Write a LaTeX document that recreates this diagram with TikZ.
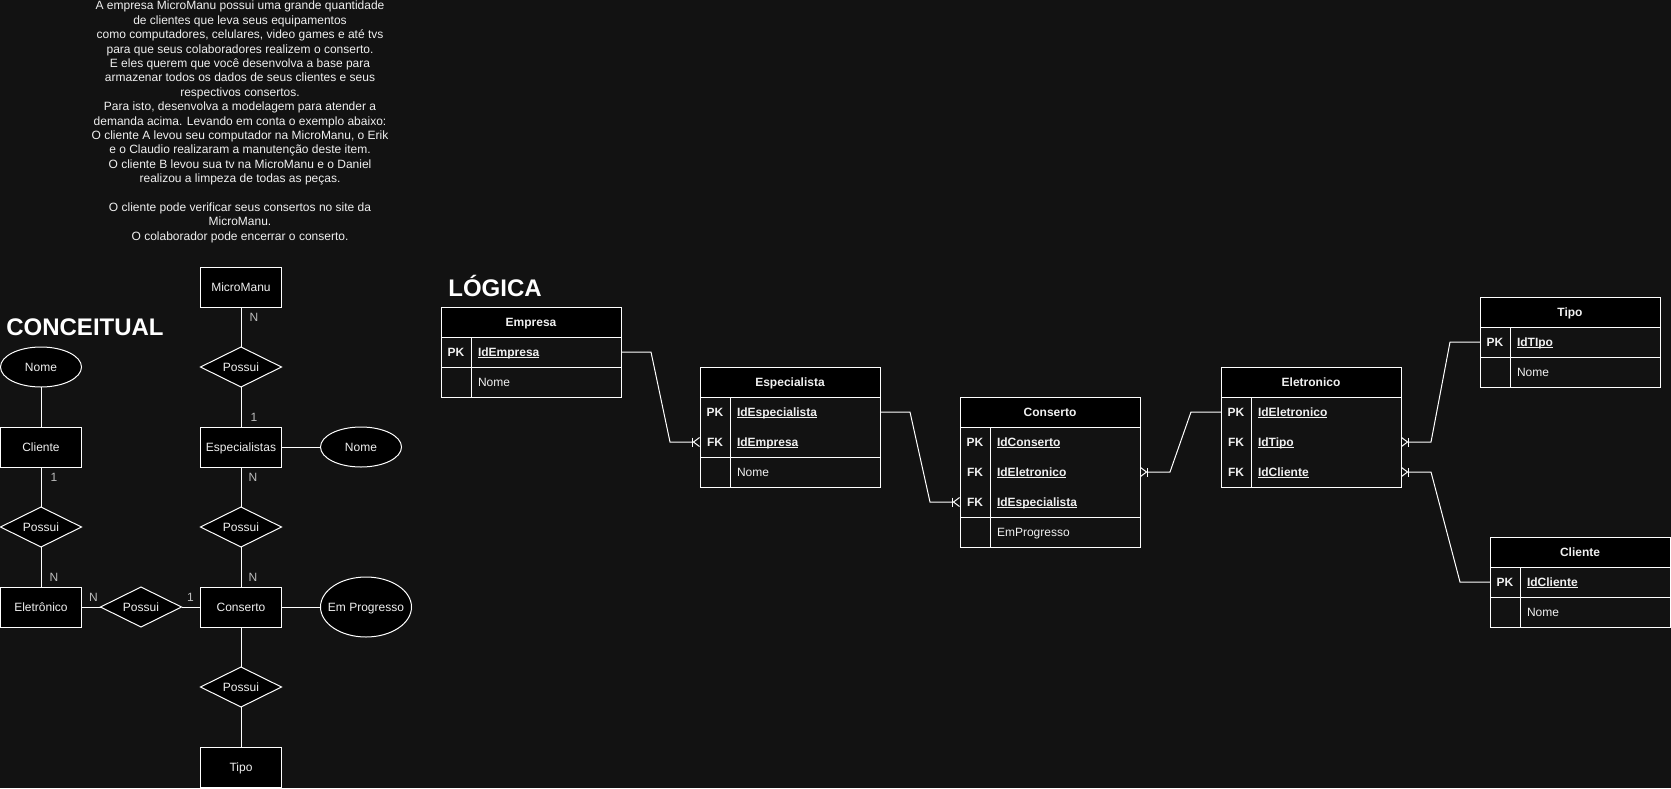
\documentclass[tikz,border=0pt]{standalone}
\usepackage{fontspec}
\setmainfont{Liberation Sans}
\usepackage{tikz}
\usetikzlibrary{positioning,shapes.geometric,arrows.meta}
\definecolor{bg}{HTML}{121212}
\definecolor{ink}{HTML}{F0F0F0}
\definecolor{cardink}{HTML}{BDBDBD}
\newcommand{\idkey}[1]{\setbox0\hbox{#1}\rlap{\rule[-1.6pt]{\wd0}{0.8pt}}\box0}
\tikzstyle{every node}=[text=ink, outer sep=0pt, font=\fontsize{12}{14.4}\selectfont]
\tikzset{
    entity/.style={
                draw=white,
                fill=black,
                line width=1pt,
                minimum width=81pt,
                minimum height=40pt,
                inner sep=0pt,
                text height=8.6pt,
                text depth=0pt
            },
    relation/.style={
                diamond,
                aspect=2,
                draw=white,
                fill=black,
                line width=1pt,
                minimum width=81pt,
                minimum height=40pt,
                inner sep=0pt,
                text height=8.6pt,
                text depth=0pt
            },
    attribute/.style={
                ellipse,
                draw=white,
                fill=black,
                line width=1pt,
                minimum width=81pt,
                minimum height=40pt,
                inner sep=0pt,
                text height=8.6pt,
                text depth=0pt
            },
    card/.style={
                text=cardink,
                inner sep=0pt
            },
    title/.style={
                text=white,
                font=\bfseries\fontsize{24}{28}\selectfont
            },
    note/.style={
                align=center,
                inner sep=0pt
            },
    tablehead/.style={
                draw=white,
                fill=black,
                line width=1pt,
                minimum width=180pt,
                minimum height=30pt,
                inner sep=0pt,
                text height=8.6pt,
                text depth=0pt,
                font=\bfseries\fontsize{12}{14.4}\selectfont
            },
    keycell/.style={
                minimum width=30pt,
                minimum height=30pt,
                inner sep=0pt,
                text height=8.6pt,
                text depth=0pt,
                font=\bfseries\fontsize{12}{14.4}\selectfont
            },
    fieldcell/.style={
                minimum height=30pt,
                inner xsep=7pt,
                inner ysep=0pt,
                text width=136pt,
                align=left,
                text height=8.6pt,
                text depth=0pt
            },
    keyfield/.style={
                fieldcell,
                font=\bfseries\fontsize{12}{14.4}\selectfont
            },
    link/.style={
                draw=white,
                line width=1pt
            },
    many/.style={
                -{Bar[width=9pt] Straight Barb[reversed,length=6pt,width=9pt]}
            },
}

\begin{document}
\begin{tikzpicture}[x=1pt, y=-1pt, node distance=40pt]
  \useasboundingbox (0,0) rectangle (1671,788);
  \fill[bg] (0,0) rectangle (1671,788);
  % Enunciado
  \node[note] (enunciado) at (240,122) {A empresa MicroManu possui uma grande quantidade\\
    de clientes que leva seus equipamentos\\
    como computadores, celulares, video games e até tvs\\
    para que seus colaboradores realizem o conserto.\\
    E eles querem que você desenvolva a base para\\
    armazenar todos os dados de seus clientes e seus\\
    respectivos consertos.\\
    Para isto, desenvolva a modelagem para atender a\\
    demanda acima. Levando em conta o exemplo abaixo:\\
    O cliente A levou seu computador na MicroManu, o Erik\\
    e o Claudio realizaram a manutenção deste item.\\
    O cliente B levou sua tv na MicroManu e o Daniel\\
    realizou a limpeza de todas as peças.\\[14.4pt]
    O cliente pode verificar seus consertos no site da\\
    MicroManu.\\
    O colaborador pode encerrar o conserto.};

  % Conceitual
  \node[title] (conceitual) at (85,327) {CONCEITUAL};
  \node[entity] (conserto) at (241,607) {Conserto};
  \node[relation, above=of conserto] (possui-esp) {Possui};
  \node[entity, above=of possui-esp] (especialistas) {Especialistas};
  \node[relation, above=of especialistas] (possui-mm) {Possui};
  \node[entity, above=of possui-mm] (micromanu) {MicroManu};
  \node[attribute, right=39pt of especialistas] (nome-esp) {Nome};
  \node[attribute, right=39pt of conserto, minimum width=91pt, minimum height=60pt, inner xsep=-8pt] (emprogresso) {Em Progresso};
  \node[relation, below=of conserto] (possui-tipo) {Possui};
  \node[entity, below=of possui-tipo] (tipo) {Tipo};
  \node[relation, left=19pt of conserto] (possui-ele) {Possui};
  \node[entity, left=19pt of possui-ele] (eletronico) {Eletrônico};
  \node[relation, above=of eletronico] (possui-cli) {Possui};
  \node[entity, above=of possui-cli] (cliente) {Cliente};
  \node[attribute, above=of cliente] (nome-cli) {Nome};

  \draw[link] (micromanu) -- (possui-mm);
  \draw[link] (possui-mm) -- (especialistas);
  \draw[link] (especialistas) -- (nome-esp);
  \draw[link] (especialistas) -- (possui-esp);
  \draw[link] (possui-esp) -- (conserto);
  \draw[link] (conserto) -- (emprogresso);
  \draw[link] (conserto) -- (possui-tipo);
  \draw[link] (possui-tipo) -- (tipo);
  \draw[link] (nome-cli) -- (cliente);
  \draw[link] (cliente) -- (possui-cli);
  \draw[link] (possui-cli) -- (eletronico);
  \draw[link] (eletronico) -- (possui-ele);
  \draw[link] (possui-ele) -- (conserto);

  % Cardinalidades
  \node[card] (card-mm) at ([shift={(13,10)}]micromanu.south) {N};
  \node[card] (card-esp1) at ([shift={(13,-10)}]especialistas.north) {1};
  \node[card] (card-esp2) at ([shift={(12,10)}]especialistas.south) {N};
  \node[card] (card-con1) at ([shift={(12,-10)}]conserto.north) {N};
  \node[card] (card-cli) at ([shift={(13,10)}]cliente.south) {1};
  \node[card] (card-ele1) at ([shift={(13,-10)}]eletronico.north) {N};
  \node[card] (card-ele2) at ([shift={(12,-10)}]eletronico.east) {N};
  \node[card] (card-con2) at ([shift={(-10,-10)}]conserto.west) {1};

  % Logica
  \node[title] (logica) at (495,286) {LÓGICA};

  % Empresa
  \node[tablehead] (empresa) at (531,322) {Empresa};
  \node[keycell, below right=0pt of empresa.south west] (empresa-k1) {PK};
  \node[keyfield, right=0pt of empresa-k1] (empresa-f1) {\idkey{IdEmpresa}};
  \node[keycell, below=0pt of empresa-k1] (empresa-k2) {};
  \node[fieldcell, right=0pt of empresa-k2] (empresa-f2) {Nome};
  \draw[link] (empresa-k1.north west) rectangle (empresa-f2.south east);
  \draw[link] (empresa-k1.north east) -- (empresa-k2.south east);
  \draw[link] (empresa-k2.north west) -- (empresa-f2.north east);

  % Especialista
  \node[tablehead] (espec) at (790,382) {Especialista};
  \node[keycell, below right=0pt of espec.south west] (espec-k1) {PK};
  \node[keyfield, right=0pt of espec-k1] (espec-f1) {\idkey{IdEspecialista}};
  \node[keycell, below=0pt of espec-k1] (espec-k2) {FK};
  \node[keyfield, right=0pt of espec-k2] (espec-f2) {\idkey{IdEmpresa}};
  \node[keycell, below=0pt of espec-k2] (espec-k3) {};
  \node[fieldcell, right=0pt of espec-k3] (espec-f3) {Nome};
  \draw[link] (espec-k1.north west) rectangle (espec-f3.south east);
  \draw[link] (espec-k1.north east) -- (espec-k3.south east);
  \draw[link] (espec-k3.north west) -- (espec-f3.north east);

  % Conserto
  \node[tablehead] (tconserto) at (1050,412) {Conserto};
  \node[keycell, below right=0pt of tconserto.south west] (tconserto-k1) {PK};
  \node[keyfield, right=0pt of tconserto-k1] (tconserto-f1) {\idkey{IdConserto}};
  \node[keycell, below=0pt of tconserto-k1] (tconserto-k2) {FK};
  \node[keyfield, right=0pt of tconserto-k2] (tconserto-f2) {\idkey{IdEletronico}};
  \node[keycell, below=0pt of tconserto-k2] (tconserto-k3) {FK};
  \node[keyfield, right=0pt of tconserto-k3] (tconserto-f3) {\idkey{IdEspecialista}};
  \node[keycell, below=0pt of tconserto-k3] (tconserto-k4) {};
  \node[fieldcell, right=0pt of tconserto-k4] (tconserto-f4) {EmProgresso};
  \draw[link] (tconserto-k1.north west) rectangle (tconserto-f4.south east);
  \draw[link] (tconserto-k1.north east) -- (tconserto-k4.south east);
  \draw[link] (tconserto-k4.north west) -- (tconserto-f4.north east);

  % Eletronico
  \node[tablehead] (eletro) at (1311,382) {Eletronico};
  \node[keycell, below right=0pt of eletro.south west] (eletro-k1) {PK};
  \node[keyfield, right=0pt of eletro-k1] (eletro-f1) {\idkey{IdEletronico}};
  \node[keycell, below=0pt of eletro-k1] (eletro-k2) {FK};
  \node[keyfield, right=0pt of eletro-k2] (eletro-f2) {\idkey{IdTipo}};
  \node[keycell, below=0pt of eletro-k2] (eletro-k3) {FK};
  \node[keyfield, right=0pt of eletro-k3] (eletro-f3) {\idkey{IdCliente}};
  \draw[link] (eletro-k1.north west) rectangle (eletro-f3.south east);
  \draw[link] (eletro-k1.north east) -- (eletro-k3.south east);

  % Tipo
  \node[tablehead] (ttipo) at (1570,312) {Tipo};
  \node[keycell, below right=0pt of ttipo.south west] (ttipo-k1) {PK};
  \node[keyfield, right=0pt of ttipo-k1] (ttipo-f1) {\idkey{IdTIpo}};
  \node[keycell, below=0pt of ttipo-k1] (ttipo-k2) {};
  \node[fieldcell, right=0pt of ttipo-k2] (ttipo-f2) {Nome};
  \draw[link] (ttipo-k1.north west) rectangle (ttipo-f2.south east);
  \draw[link] (ttipo-k1.north east) -- (ttipo-k2.south east);
  \draw[link] (ttipo-k2.north west) -- (ttipo-f2.north east);

  % Cliente
  \node[tablehead] (tcliente) at (1580,552) {Cliente};
  \node[keycell, below right=0pt of tcliente.south west] (tcliente-k1) {PK};
  \node[keyfield, right=0pt of tcliente-k1] (tcliente-f1) {\idkey{IdCliente}};
  \node[keycell, below=0pt of tcliente-k1] (tcliente-k2) {};
  \node[fieldcell, right=0pt of tcliente-k2] (tcliente-f2) {Nome};
  \draw[link] (tcliente-k1.north west) rectangle (tcliente-f2.south east);
  \draw[link] (tcliente-k1.north east) -- (tcliente-k2.south east);
  \draw[link] (tcliente-k2.north west) -- (tcliente-f2.north east);

  % Relacionamentos
  \draw[link, many] (empresa-f1.east) -- ++(30,0) -- ([xshift=-30pt]espec-k2.west) -- (espec-k2.west);
  \draw[link, many] (espec-f1.east) -- ++(30,0) -- ([xshift=-30pt]tconserto-k3.west) -- (tconserto-k3.west);
  \draw[link, many] (eletro-k1.west) -- ++(-30,0) -- ([xshift=30pt]tconserto-f2.east) -- (tconserto-f2.east);
  \draw[link, many] (ttipo-k1.west) -- ++(-30,0) -- ([xshift=30pt]eletro-f2.east) -- (eletro-f2.east);
  \draw[link, many] (tcliente-k1.west) -- ++(-30,0) -- ([xshift=30pt]eletro-f3.east) -- (eletro-f3.east);
\end{tikzpicture}
\end{document}
